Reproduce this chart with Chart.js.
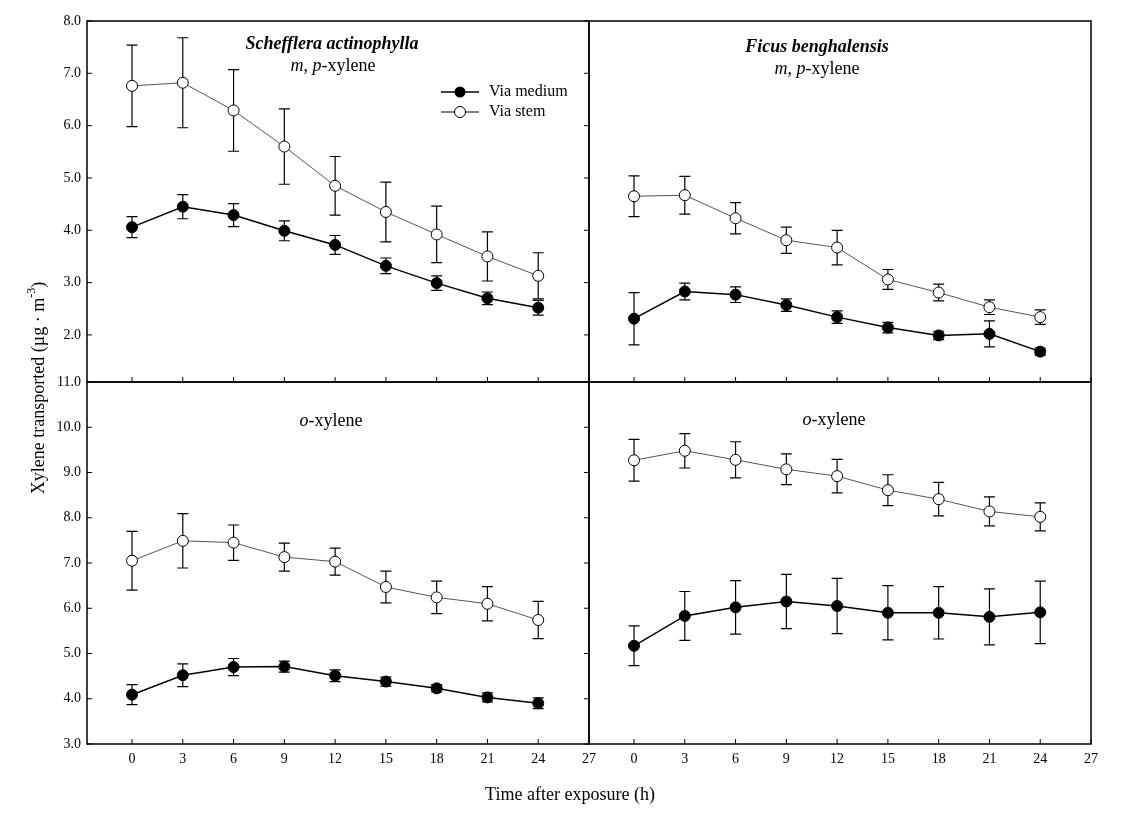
<!DOCTYPE html>
<html>
<head>
<meta charset="utf-8">
<title>Xylene transported</title>
<script src="https://cdn.jsdelivr.net/npm/chart.js@4.4.0/dist/chart.umd.min.js"></script>
<style>
html, body { margin: 0; padding: 0; background: #fff; }
#wrap { position: relative; width: 1137px; height: 817px; }
#wrap canvas { position: absolute; left: 0; top: 0; }
</style>
</head>
<body>
<div id="wrap">
  <canvas id="tl" width="1137" height="817"></canvas>
  <canvas id="tr" width="1137" height="817"></canvas>
  <canvas id="bl" width="1137" height="817"></canvas>
  <canvas id="br" width="1137" height="817"></canvas>
</div>
<script>
// time points (h) and axis ticks
const hours = [0, 3, 6, 9, 12, 15, 18, 21, 24];
const xTicks = [0, 3, 6, 9, 12, 15, 18, 21, 24, 27];
const yTicksTop = [2, 3, 4, 5, 6, 7, 8];
const yTicksBottom = [3, 4, 5, 6, 7, 8, 9, 10, 11];

// Schefflera actinophylla, m,p-xylene
const schMpMedium    = [4.06, 4.45, 4.29, 3.99, 3.72, 3.32, 2.99, 2.70, 2.52];
const schMpMediumErr = [0.20, 0.23, 0.22, 0.19, 0.18, 0.15, 0.14, 0.12, 0.14];
const schMpStem      = [6.76, 6.82, 6.29, 5.60, 4.85, 4.35, 3.92, 3.50, 3.13];
const schMpStemErr   = [0.78, 0.86, 0.78, 0.72, 0.56, 0.57, 0.54, 0.47, 0.44];

// Ficus benghalensis, m,p-xylene
const ficMpMedium    = [2.31, 2.83, 2.77, 2.57, 2.34, 2.14, 1.99, 2.02, 1.68];
const ficMpMediumErr = [0.50, 0.16, 0.15, 0.12, 0.12, 0.10, 0.08, 0.25, 0.07];
const ficMpStem      = [4.65, 4.67, 4.23, 3.81, 3.67, 3.06, 2.81, 2.53, 2.34];
const ficMpStemErr   = [0.39, 0.36, 0.30, 0.25, 0.33, 0.19, 0.16, 0.14, 0.14];

// Schefflera actinophylla, o-xylene
const schOMedium    = [4.09, 4.52, 4.70, 4.71, 4.51, 4.38, 4.23, 4.03, 3.90];
const schOMediumErr = [0.22, 0.25, 0.19, 0.12, 0.13, 0.10, 0.08, 0.10, 0.12];
const schOStem      = [7.05, 7.49, 7.45, 7.13, 7.03, 6.47, 6.24, 6.10, 5.74];
const schOStemErr   = [0.65, 0.60, 0.39, 0.31, 0.30, 0.35, 0.36, 0.38, 0.41];

// Ficus benghalensis, o-xylene
const ficOMedium    = [5.17, 5.83, 6.02, 6.15, 6.05, 5.90, 5.90, 5.81, 5.91];
const ficOMediumErr = [0.44, 0.54, 0.59, 0.60, 0.61, 0.60, 0.58, 0.62, 0.69];
const ficOStem      = [9.27, 9.48, 9.28, 9.07, 8.92, 8.61, 8.41, 8.14, 8.02];
const ficOStemErr   = [0.46, 0.38, 0.40, 0.34, 0.37, 0.34, 0.37, 0.32, 0.31];

const SERIF = '"Liberation Serif", "Times New Roman", Times, serif';
Chart.defaults.font.family = SERIF;
Chart.defaults.color = '#000';

function pts(values) {
  return hours.map((h, i) => ({ x: h, y: values[i] }));
}

// error bars, drawn under the markers
const errorBars = {
  id: 'errorBars',
  beforeDatasetsDraw(chart) {
    const ctx = chart.ctx, xS = chart.scales.x, yS = chart.scales.y;
    ctx.save();
    ctx.strokeStyle = '#000';
    ctx.lineWidth = 1.2;
    chart.data.datasets.forEach(ds => {
      ds.data.forEach((p, j) => {
        const e = ds.errors[j];
        const px = xS.getPixelForValue(p.x);
        const hi = yS.getPixelForValue(p.y + e);
        const lo = yS.getPixelForValue(p.y - e);
        ctx.beginPath();
        ctx.moveTo(px, hi); ctx.lineTo(px, lo);
        ctx.moveTo(px - 5.5, hi); ctx.lineTo(px + 5.5, hi);
        ctx.moveTo(px - 5.5, lo); ctx.lineTo(px + 5.5, lo);
        ctx.stroke();
      });
    });
    ctx.restore();
  }
};

// text with mixed fonts, centred on cx
function richText(ctx, parts, cx, cy) {
  let total = 0;
  parts.forEach(p => { ctx.font = p.font; total += ctx.measureText(p.t).width; });
  let x = cx - total / 2;
  ctx.textAlign = 'left';
  ctx.textBaseline = 'middle';
  parts.forEach(p => {
    ctx.font = p.font;
    ctx.fillText(p.t, x, cy + (p.dy || 0));
    x += ctx.measureText(p.t).width;
  });
}

const REG = '18px ' + SERIF, ITA = 'italic 18px ' + SERIF, BI = 'italic bold 18px ' + SERIF;

function decor(o) {
  return {
    id: 'decor',
    afterDraw(chart) {
      const ctx = chart.ctx, a = chart.chartArea;
      const xS = chart.scales.x, yS = chart.scales.y;
      ctx.save();
      ctx.strokeStyle = '#000';
      ctx.lineWidth = 1.5;
      ctx.strokeRect(a.left, a.top, a.right - a.left, a.bottom - a.top);
      ctx.lineWidth = 1;
      ctx.beginPath();
      xTicks.forEach(v => {
        const px = xS.getPixelForValue(v);
        ctx.moveTo(px, a.bottom); ctx.lineTo(px, a.bottom - 5);
      });
      if (o.yTicksInside) {
        o.yTicks.forEach(v => {
          const py = yS.getPixelForValue(v);
          ctx.moveTo(a.left, py); ctx.lineTo(a.left + 5, py);
          ctx.moveTo(a.right, py); ctx.lineTo(a.right - 5, py);
        });
      }
      ctx.stroke();
      ctx.fillStyle = '#000';
      (o.texts || []).forEach(t => richText(ctx, t.parts, t.x, t.y));
      if (o.extra) o.extra(ctx);
      ctx.restore();
    }
  };
}

function panel(id, o) {
  return new Chart(document.getElementById(id), {
    type: 'line',
    data: {
      datasets: [
        { label: 'Via medium', data: pts(o.medium), errors: o.mediumErr,
          borderColor: '#000', borderWidth: 1.5, tension: 0,
          pointRadius: 5.5, pointBackgroundColor: '#000', pointBorderColor: '#000', pointBorderWidth: 1 },
        { label: 'Via stem', data: pts(o.stem), errors: o.stemErr,
          borderColor: '#555', borderWidth: 1, tension: 0,
          pointRadius: 5.5, pointBackgroundColor: '#fff', pointBorderColor: '#000', pointBorderWidth: 1 }
      ]
    },
    options: {
      responsive: false,
      animation: false,
      devicePixelRatio: 1,
      layout: { padding: o.padding },
      plugins: { legend: { display: false }, tooltip: { enabled: false } },
      scales: {
        x: {
          type: 'linear', min: -2.66, max: 27, display: o.showX,
          afterBuildTicks: s => { s.ticks = xTicks.map(v => ({ value: v })); },
          afterFit: s => { s.height = o.showX ? 30 : 0; },
          grid: { display: false, drawTicks: false },
          border: { display: false },
          ticks: { font: { size: 14 }, color: '#000', padding: 7, autoSkip: false, maxRotation: 0 }
        },
        y: {
          type: 'linear', min: o.yMin, max: o.yMax, display: o.showY,
          afterBuildTicks: s => { s.ticks = o.yTicks.map(v => ({ value: v })); },
          afterFit: s => { s.width = o.showY ? 40 : 0; },
          grid: { display: false, drawTicks: false },
          border: { display: false },
          ticks: { font: { size: 14 }, color: '#000', padding: 6, callback: v => Number(v).toFixed(1) }
        }
      }
    },
    plugins: [errorBars, decor(o)]
  });
}

const mpLine = [
  { t: 'm', font: ITA }, { t: ', ', font: REG }, { t: 'p', font: ITA }, { t: '-xylene', font: REG }
];
const oLine = [{ t: 'o', font: ITA }, { t: '-xylene', font: REG }];

panel('tl', {
  medium: schMpMedium, mediumErr: schMpMediumErr, stem: schMpStem, stemErr: schMpStemErr,
  yMin: 1.1, yMax: 8, yTicks: yTicksTop, showX: false, showY: true, yTicksInside: true,
  padding: { left: 47, right: 548, top: 21, bottom: 435 },
  texts: [
    { parts: [{ t: 'Schefflera actinophylla', font: BI }], x: 332, y: 44 },
    { parts: mpLine, x: 333, y: 66 }
  ],
  extra(ctx) {
    // legend
    ctx.strokeStyle = '#000';
    ctx.lineWidth = 1.5;
    ctx.beginPath(); ctx.moveTo(441, 92); ctx.lineTo(479, 92); ctx.stroke();
    ctx.beginPath(); ctx.arc(460, 92, 5.5, 0, Math.PI * 2); ctx.fillStyle = '#000'; ctx.fill();
    ctx.lineWidth = 1;
    ctx.beginPath(); ctx.moveTo(441, 112); ctx.lineTo(479, 112); ctx.stroke();
    ctx.beginPath(); ctx.arc(460, 112, 5.5, 0, Math.PI * 2); ctx.fillStyle = '#fff'; ctx.fill(); ctx.stroke();
    ctx.fillStyle = '#000';
    ctx.font = '16px ' + SERIF;
    ctx.textAlign = 'left';
    ctx.textBaseline = 'middle';
    ctx.fillText('Via medium', 489, 92);
    ctx.fillText('Via stem', 489, 112);
  }
});

panel('tr', {
  medium: ficMpMedium, mediumErr: ficMpMediumErr, stem: ficMpStem, stemErr: ficMpStemErr,
  yMin: 1.1, yMax: 8, yTicks: yTicksTop, showX: false, showY: false, yTicksInside: false,
  padding: { left: 589, right: 46, top: 21, bottom: 435 },
  texts: [
    { parts: [{ t: 'Ficus benghalensis', font: BI }], x: 817, y: 47 },
    { parts: mpLine, x: 817, y: 69 }
  ]
});

panel('bl', {
  medium: schOMedium, mediumErr: schOMediumErr, stem: schOStem, stemErr: schOStemErr,
  yMin: 3, yMax: 11, yTicks: yTicksBottom, showX: true, showY: true, yTicksInside: true,
  padding: { left: 47, right: 548, top: 382, bottom: 43 },
  texts: [{ parts: oLine, x: 331, y: 421 }],
  extra(ctx) {
    // shared axis titles
    ctx.fillStyle = '#000';
    richText(ctx, [{ t: 'Time after exposure (h)', font: REG }], 570, 795);
    ctx.save();
    ctx.translate(39, 388);
    ctx.rotate(-Math.PI / 2);
    richText(ctx, [
      { t: 'Xylene transported (\u00b5g \u00b7 m', font: REG },
      { t: '-3', font: '12px ' + SERIF, dy: -7 },
      { t: ')', font: REG }
    ], 0, 0);
    ctx.restore();
  }
});

panel('br', {
  medium: ficOMedium, mediumErr: ficOMediumErr, stem: ficOStem, stemErr: ficOStemErr,
  yMin: 3, yMax: 11, yTicks: yTicksBottom, showX: true, showY: false, yTicksInside: false,
  padding: { left: 589, right: 46, top: 382, bottom: 43 },
  texts: [{ parts: oLine, x: 834, y: 420 }]
});
</script>
</body>
</html>
